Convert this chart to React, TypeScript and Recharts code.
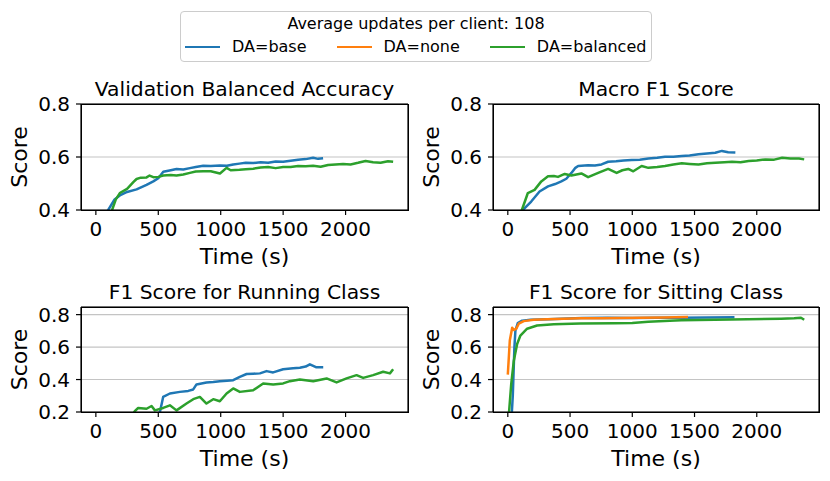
import React from 'react'
import { LineChart, Line, XAxis, YAxis, CartesianGrid } from 'recharts'

// [time (s), score] pairs
const SERIES_NAMES = ['DA=base', 'DA=none', 'DA=balanced']
const LEGEND_TITLE = 'Average updates per client: 108'
const PANEL_TITLES = [
  'Validation Balanced Accuracy',
  'Macro F1 Score',
  'F1 Score for Running Class',
  'F1 Score for Sitting Class',
]
const TIME_TICKS = [0, 500, 1000, 1500, 2000]
const TOP_SCORE_TICKS = [0.4, 0.6, 0.8]
const BOTTOM_SCORE_TICKS = [0.2, 0.4, 0.6, 0.8]

const accBase: [number, number][] = [
  [50, 0.37], [99, 0.4], [150, 0.44], [192, 0.455], [250, 0.468], [326, 0.478], [406, 0.495],
  [460, 0.508], [500, 0.52], [540, 0.544], [600, 0.55], [646, 0.555], [700, 0.553], [753, 0.558],
  [800, 0.562], [860, 0.567], [920, 0.566], [994, 0.568], [1050, 0.567], [1100, 0.572],
  [1150, 0.575], [1200, 0.578], [1260, 0.577], [1320, 0.58], [1380, 0.578], [1440, 0.583],
  [1500, 0.582], [1560, 0.586], [1620, 0.59], [1680, 0.592], [1740, 0.597], [1780, 0.593],
  [1820, 0.595],
]
const accBalanced: [number, number][] = [
  [80, 0.35], [130, 0.4], [160, 0.44], [192, 0.464], [250, 0.48], [300, 0.505], [326, 0.517],
  [360, 0.522], [406, 0.523], [430, 0.53], [460, 0.524], [500, 0.525], [540, 0.53], [600, 0.532],
  [646, 0.53], [700, 0.534], [753, 0.54], [800, 0.545], [860, 0.546], [920, 0.546], [994, 0.538],
  [1047, 0.559], [1080, 0.55], [1150, 0.552], [1200, 0.554], [1260, 0.556], [1320, 0.56],
  [1380, 0.562], [1440, 0.558], [1500, 0.562], [1560, 0.562], [1620, 0.566], [1680, 0.565],
  [1740, 0.567], [1800, 0.563], [1860, 0.57], [1920, 0.572], [1980, 0.574], [2040, 0.572],
  [2100, 0.578], [2160, 0.585], [2220, 0.58], [2280, 0.578], [2340, 0.584], [2381, 0.582],
]

const f1Base: [number, number][] = [
  [60, 0.34], [121, 0.4], [188, 0.432], [255, 0.47], [323, 0.489], [380, 0.498], [430, 0.508],
  [470, 0.518], [511, 0.54], [540, 0.558], [565, 0.566], [645, 0.569], [700, 0.568], [753, 0.572],
  [806, 0.582], [870, 0.584], [930, 0.587], [995, 0.589], [1060, 0.59], [1129, 0.594],
  [1200, 0.597], [1263, 0.601], [1330, 0.601], [1398, 0.604], [1460, 0.606], [1532, 0.61],
  [1600, 0.613], [1667, 0.616], [1720, 0.623], [1770, 0.618], [1828, 0.617],
]
const f1Balanced: [number, number][] = [
  [70, 0.34], [113, 0.4], [161, 0.464], [215, 0.476], [269, 0.508], [323, 0.527], [370, 0.528],
  [403, 0.525], [457, 0.536], [511, 0.53], [591, 0.538], [645, 0.524], [726, 0.54], [806, 0.555],
  [874, 0.54], [920, 0.55], [968, 0.555], [1008, 0.546], [1075, 0.566], [1129, 0.559],
  [1200, 0.562], [1263, 0.566], [1330, 0.572], [1398, 0.576], [1460, 0.574], [1532, 0.572],
  [1600, 0.576], [1667, 0.578], [1740, 0.58], [1801, 0.582], [1870, 0.58], [1935, 0.585],
  [2000, 0.587], [2070, 0.591], [2140, 0.59], [2204, 0.597], [2270, 0.594], [2339, 0.594],
  [2381, 0.591],
]

const runBase: [number, number][] = [
  [450, 0.15], [513, 0.2], [530, 0.26], [539, 0.293], [593, 0.314], [673, 0.324], [740, 0.33],
  [780, 0.339], [806, 0.37], [886, 0.382], [940, 0.385], [993, 0.39], [1050, 0.393],
  [1100, 0.396], [1153, 0.417], [1207, 0.434], [1260, 0.436], [1314, 0.438], [1367, 0.452],
  [1420, 0.444], [1500, 0.463], [1580, 0.469], [1634, 0.473], [1680, 0.48], [1714, 0.494],
  [1767, 0.475], [1821, 0.475],
]
const runBalanced: [number, number][] = [
  [290, 0.18], [312, 0.205], [339, 0.225], [406, 0.22], [446, 0.237], [473, 0.21], [539, 0.225],
  [593, 0.241], [646, 0.21], [726, 0.252], [780, 0.279], [833, 0.293], [886, 0.252], [940, 0.279],
  [993, 0.266], [1047, 0.314], [1100, 0.345], [1153, 0.324], [1260, 0.334], [1340, 0.376],
  [1420, 0.37], [1500, 0.376], [1554, 0.39], [1634, 0.4], [1741, 0.39], [1848, 0.407],
  [1928, 0.382], [2008, 0.407], [2088, 0.427], [2141, 0.41], [2221, 0.427], [2301, 0.448],
  [2355, 0.438], [2381, 0.463],
]

const sitBase: [number, number][] = [
  [25, 0.1], [40, 0.3], [53, 0.598], [61, 0.702], [80, 0.748], [115, 0.763], [182, 0.768],
  [328, 0.772], [595, 0.779], [800, 0.781], [1000, 0.779], [1200, 0.78], [1395, 0.781],
  [1600, 0.782], [1821, 0.784],
]
const sitNone: [number, number][] = [
  [0, 0.43], [16, 0.64], [35, 0.719], [48, 0.706], [67, 0.712], [88, 0.744], [128, 0.76],
  [208, 0.768], [315, 0.772], [450, 0.775], [583, 0.777], [750, 0.778], [900, 0.779],
  [1064, 0.78], [1250, 0.782], [1448, 0.785],
]
const sitBalanced: [number, number][] = [
  [5, 0.15], [27, 0.369], [48, 0.515], [75, 0.619], [101, 0.671], [155, 0.713], [235, 0.733],
  [369, 0.74], [583, 0.745], [861, 0.747], [1000, 0.749], [1128, 0.756], [1300, 0.763],
  [1395, 0.766], [1662, 0.769], [1928, 0.771], [2195, 0.775], [2300, 0.778], [2355, 0.781],
  [2381, 0.768],
]

const COLORS = ['#1f77b4', '#ff7f0e', '#2ca02c']
const FONT = '"DejaVu Sans", sans-serif'
const TIME_DOMAIN: [number, number] = [-119, 2500]

type Rows = [number, number][] | null

const toPoints = (rows: [number, number][]) => rows.map(([t, v]) => ({ t, v }))

interface PanelProps {
  title: string
  fx: number
  fy: number
  fw: number
  fh: number
  yDomain: [number, number]
  yTicks: number[]
  series: Rows[]
}

function Panel({ title, fx, fy, fw, fh, yDomain, yTicks, series }: PanelProps) {
  // 20px top axis + 20px right axis only carry the upper/right spines
  const width = 80 + fw + 20 + 5
  const height = 25 + fh + 60
  const frame = { stroke: '#000', strokeWidth: 1.2 }
  return (
    <>
      <div
        style={{
          position: 'absolute',
          left: fx,
          width: fw,
          top: fy - 24.8,
          textAlign: 'center',
          fontSize: 20.3,
          lineHeight: '20px',
          whiteSpace: 'nowrap',
        }}
      >
        {title}
      </div>
      <div style={{ position: 'absolute', left: fx - 80, top: fy - 25 }}>
        <LineChart width={width} height={height} margin={{ top: 5, right: 5, left: 10, bottom: 0 }}>
          <CartesianGrid vertical={false} stroke="#c4c4c4" strokeWidth={1.1} />
          <XAxis
            dataKey="t"
            type="number"
            domain={TIME_DOMAIN}
            ticks={TIME_TICKS}
            allowDataOverflow
            height={60}
            tickSize={5}
            tickMargin={7}
            axisLine={frame}
            tickLine={frame}
            tick={{ fill: '#000', fontSize: 20, fontFamily: FONT }}
            label={{
              value: 'Time (s)',
              position: 'insideBottom',
              offset: 6,
              style: { fill: '#000', fontSize: 22, fontFamily: FONT },
            }}
          />
          <XAxis
            xAxisId="top"
            orientation="top"
            type="number"
            domain={TIME_DOMAIN}
            height={20}
            tickLine={false}
            tickFormatter={() => ''}
            axisLine={frame}
          />
          <YAxis
            type="number"
            domain={yDomain}
            ticks={yTicks}
            allowDataOverflow
            width={70}
            tickSize={5}
            tickMargin={6}
            tickFormatter={(v: number) => v.toFixed(1)}
            axisLine={frame}
            tickLine={frame}
            tick={{ fill: '#000', fontSize: 20, fontFamily: FONT }}
            label={{
              value: 'Score',
              angle: -90,
              position: 'insideLeft',
              offset: 8,
              style: { textAnchor: 'middle', fill: '#000', fontSize: 22, fontFamily: FONT },
            }}
          />
          <YAxis
            yAxisId="right"
            orientation="right"
            type="number"
            domain={yDomain}
            width={20}
            tickLine={false}
            tickFormatter={() => ''}
            axisLine={frame}
          />
          {series.map((rows, i) =>
            rows ? (
              <Line
                key={SERIES_NAMES[i]}
                name={SERIES_NAMES[i]}
                data={toPoints(rows)}
                dataKey="v"
                type="linear"
                stroke={COLORS[i]}
                strokeWidth={2.5}
                strokeLinejoin="round"
                dot={false}
                activeDot={false}
                isAnimationActive={false}
              />
            ) : null
          )}
        </LineChart>
      </div>
      <div
        style={{
          position: 'absolute',
          zIndex: 5,
          left: fx - 0.5,
          top: fy - 0.5,
          width: fw + 1,
          height: fh + 1,
          border: '1px solid #000',
          boxSizing: 'border-box',
          pointerEvents: 'none',
        }}
      />
    </>
  )
}

function Legend() {
  return (
    <div
      style={{
        position: 'absolute',
        left: 180,
        top: 11,
        width: 472,
        height: 51,
        border: '1px solid #cccccc',
        borderRadius: 4,
        boxSizing: 'border-box',
        fontSize: 16,
      }}
    >
      <div style={{ position: 'absolute', top: 3, left: 0, right: 0, textAlign: 'center', lineHeight: '18px' }}>
        {LEGEND_TITLE}
      </div>
      <div style={{ position: 'absolute', top: 26, left: 4, display: 'flex', alignItems: 'center', gap: 30, lineHeight: '18px' }}>
        {SERIES_NAMES.map((name, i) => (
          <div key={name} style={{ display: 'flex', alignItems: 'center' }}>
            <span style={{ display: 'inline-block', width: 35, borderTop: `2.5px solid ${COLORS[i]}`, marginRight: 12 }} />
            {name}
          </div>
        ))}
      </div>
    </div>
  )
}

export default function App() {
  return (
    <div
      style={{
        position: 'absolute',
        left: 0,
        top: 0,
        width: 830,
        height: 481,
        background: '#fff',
        fontFamily: FONT,
        color: '#000',
        overflow: 'hidden',
      }}
    >
      <Legend />
      <Panel
        title={PANEL_TITLES[0]}
        fx={81} fy={104} fw={327} fh={106}
        yDomain={[0.4, 0.8]} yTicks={TOP_SCORE_TICKS}
        series={[accBase, null, accBalanced]}
      />
      <Panel
        title={PANEL_TITLES[1]}
        fx={493} fy={104} fw={326} fh={106}
        yDomain={[0.4, 0.8]} yTicks={TOP_SCORE_TICKS}
        series={[f1Base, null, f1Balanced]}
      />
      <Panel
        title={PANEL_TITLES[2]}
        fx={81} fy={307} fw={327} fh={105}
        yDomain={[0.2, 0.847]} yTicks={BOTTOM_SCORE_TICKS}
        series={[runBase, null, runBalanced]}
      />
      <Panel
        title={PANEL_TITLES[3]}
        fx={493} fy={307} fw={326} fh={105}
        yDomain={[0.2, 0.847]} yTicks={BOTTOM_SCORE_TICKS}
        series={[sitBase, sitNone, sitBalanced]}
      />
    </div>
  )
}
